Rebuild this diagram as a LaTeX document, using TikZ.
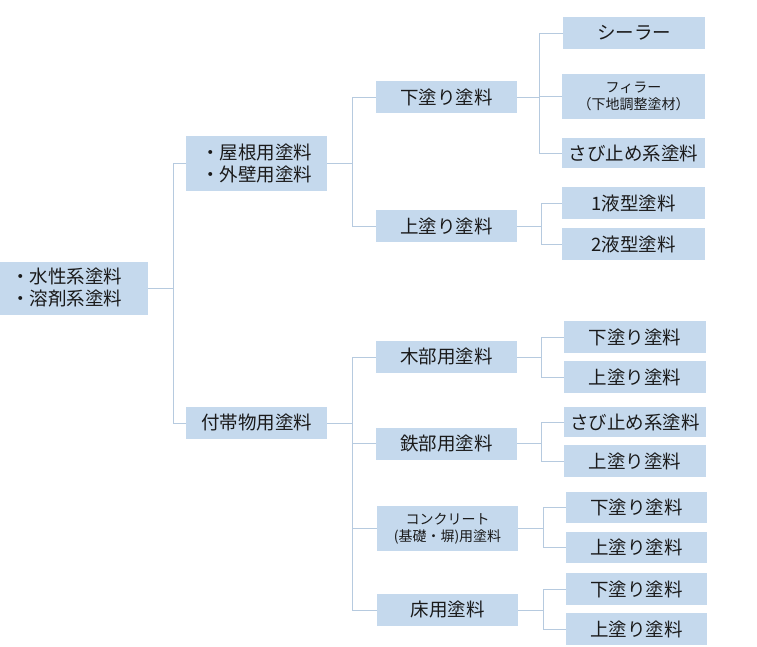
\documentclass[tikz,border=0pt]{standalone}
\usepackage{fontspec}
\setmainfont{Noto Sans CJK JP}
\definecolor{boxfill}{HTML}{C5D9ED}
\definecolor{linecol}{HTML}{B6CADF}
\definecolor{txt}{HTML}{1A1A1A}
\begin{document}
\begin{tikzpicture}[x=1pt,y=-1pt,
  cbox/.style={fill=boxfill,draw=none,inner sep=0pt,minimum width=141pt,minimum height=32pt,
    align=center,text=txt,font=\fontsize{18.5}{22}\selectfont},
  sbox/.style={cbox,font=\fontsize{14}{17.5}\selectfont},
  conn/.style={draw=linecol,line width=0.9pt}]
\useasboundingbox (0,0) rectangle (757,647);
% level 0
\node[cbox,minimum width=148pt,minimum height=53pt] (root) at (74,288) {\hspace*{-15pt}・水性系塗料\\\hspace*{-15pt}・溶剤系塗料};
% level 1
\node[cbox,minimum height=55pt] (yane) at (256.5,163.5) {・屋根用塗料\\・外壁用塗料};
\node[cbox] (futai) at (256.5,423) {付帯物用塗料};
% level 2
\node[cbox] (shita) at (446.5,97) {下塗り塗料};
\node[cbox] (ue) at (446.5,226) {上塗り塗料};
\node[cbox] (moku) at (446.5,357) {木部用塗料};
\node[cbox] (tetsu) at (446.5,443.5) {鉄部用塗料};
\node[sbox,minimum height=45pt] (conc) at (447.5,528.5) {コンクリート\\(基礎・塀)用塗料};
\node[cbox] (yuka) at (447.5,610) {床用塗料};
% level 3
\node[cbox,minimum width=142pt] (sealer) at (634,33) {シーラー};
\node[sbox,minimum width=143pt,minimum height=45pt] (filler) at (633.5,96.5) {フィラー\\（下地調整塗材）};
\node[cbox,minimum width=143pt,minimum height=30pt] (sabi1) at (633.5,153) {さび止め系塗料};
\node[cbox,minimum width=143pt] (eki1) at (633.5,203) {1液型塗料};
\node[cbox,minimum width=143pt] (eki2) at (633.5,244) {2液型塗料};
\node[cbox,minimum width=142pt] (mokuS) at (635,337) {下塗り塗料};
\node[cbox,minimum width=142pt] (mokuU) at (635,377) {上塗り塗料};
\node[cbox,minimum width=142pt,minimum height=30pt] (tetsuS) at (635,422) {さび止め系塗料};
\node[cbox,minimum width=142pt] (tetsuU) at (635,461) {上塗り塗料};
\node[cbox,minimum width=141pt,minimum height=31pt] (concS) at (636.5,507.5) {下塗り塗料};
\node[cbox,minimum width=141pt,minimum height=31pt] (concU) at (636.5,547.5) {上塗り塗料};
\node[cbox,minimum width=141pt] (yukaS) at (636.5,589) {下塗り塗料};
\node[cbox,minimum width=141pt] (yukaU) at (636.5,629) {上塗り塗料};
% connectors
\foreach \p/\c/\d in {root/yane/25,root/futai/25,
  yane/shita/25,yane/ue/25,
  futai/moku/25,futai/tetsu/25,futai/conc/25,futai/yuka/25,
  shita/sealer/22,shita/filler/22,shita/sabi1/22,
  ue/eki1/24,ue/eki2/24,
  moku/mokuS/24,moku/mokuU/24,
  tetsu/tetsuS/24,tetsu/tetsuU/24,
  conc/concS/25,conc/concU/25,
  yuka/yukaS/25,yuka/yukaU/25}
  \draw[conn] (\p.east) -- ++(\d,0) |- (\c.west);
\end{tikzpicture}
\end{document}
